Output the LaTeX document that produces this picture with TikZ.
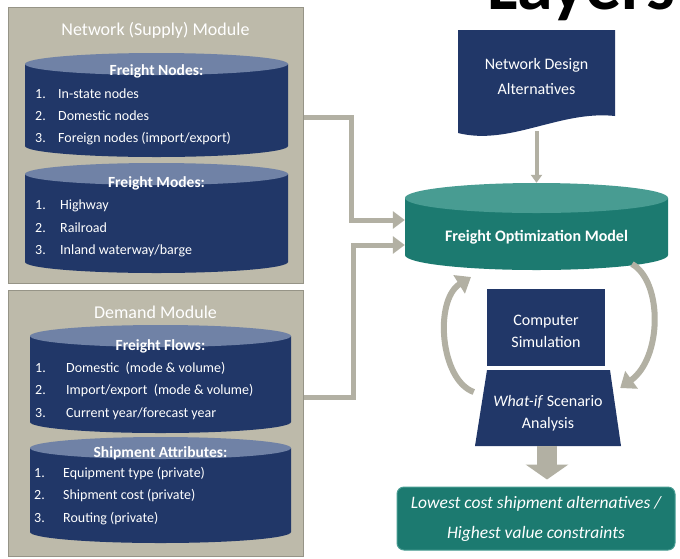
\documentclass[tikz,border=0pt]{standalone}
\usepackage{fontspec}
\setmainfont{Carlito}
\usetikzlibrary{arrows.meta}
\definecolor{navy}{RGB}{33,55,104}
\definecolor{navytop}{RGB}{112,130,166}
\definecolor{panelc}{RGB}{189,186,170}
\definecolor{panelb}{RGB}{150,148,135}
\definecolor{tealb}{RGB}{28,122,112}
\definecolor{tealt}{RGB}{72,156,146}
\definecolor{connc}{RGB}{178,176,163}
\definecolor{connd}{RGB}{150,148,137}
\newcommand\mycyl[7]{%
  \fill[#6] ({#1-#2},{#3+#5}) -- ({#1-#2},{#4-#5}) arc[start angle=180,end angle=360,x radius=#2pt,y radius=#5pt] -- ({#1+#2},{#3+#5}) -- cycle;
  \fill[#7] (#1,{#3+#5}) ellipse[x radius=#2pt,y radius=#5pt];}
\begin{document}
\begin{tikzpicture}[x=1pt,y=-1pt,
  panel/.style={draw=panelb, fill=panelc, line width=1pt, inner sep=0pt},
  ptitle/.style={text=white, font=\fontsize{18}{21}\selectfont, anchor=base, inner sep=0pt},
  chead/.style={text=white, font=\fontsize{15.5}{18}\selectfont\bfseries, anchor=base, inner sep=0pt},
  item/.style={text=white, font=\fontsize{14}{16}\selectfont, anchor=base west, inner sep=0pt},
  wtext/.style={text=white, font=\fontsize{16}{22}\selectfont, align=center, inner sep=0pt},
  conn/.style={draw=connc, line width=5pt, line join=miter, -{Triangle[width=17pt,length=12pt]}},
  curv/.style={draw=connc, line width=7pt, -{Triangle[width=21pt,length=14pt]}},
]
\useasboundingbox (0,0) rectangle (680,558);
\clip (0,0) rectangle (680,558);
\fill[white] (0,0) rectangle (680,558);

% title fragment
\node[anchor=base west, inner sep=0pt, font=\fontsize{72}{72}\selectfont\bfseries] (layers) at (487,9) {Layers};

% ---------- Network (Supply) Module ----------
\node[panel, minimum width=295pt, minimum height=276pt] (netpanel) at (155.5,145) {};
\node[ptitle] (nettitle) at (155.5,35) {Network (Supply) Module};
\mycyl{156.5}{131.5}{53}{157}{11}{navy}{navytop}
\node[chead] (fnh) at (156.5,75) {Freight Nodes:};
\node[item] (fn1n) at (35,98) {1.};  \node[item] (fn1) at (58,98) {In-state nodes};
\node[item] (fn2n) at (35,120) {2.}; \node[item] (fn2) at (58,120) {Domestic nodes};
\node[item] (fn3n) at (35,142) {3.}; \node[item] (fn3) at (58,142) {Foreign nodes (import/export)};
\mycyl{156.5}{131.5}{163}{273}{11}{navy}{navytop}
\node[chead] (fmh) at (156.5,187) {Freight Modes:};
\node[item] (fm1n) at (35,209) {1.};  \node[item] (fm1) at (60,209) {Highway};
\node[item] (fm2n) at (35,232) {2.};  \node[item] (fm2) at (60,232) {Railroad};
\node[item] (fm3n) at (35,254) {3.};  \node[item] (fm3) at (60,254) {Inland waterway/barge};

% ---------- Demand Module ----------
\node[panel, minimum width=295pt, minimum height=266pt] (dempanel) at (155.5,423) {};
\node[ptitle] (demtitle) at (155.5,318) {Demand Module};
\mycyl{160.5}{130.5}{325}{433}{11}{navy}{navytop}
\node[chead] (ffh) at (160.5,350) {Freight Flows:};
\node[item] (ff1n) at (35,372) {1.};  \node[item] (ff1) at (66,372) {Domestic \ (mode \& volume)};
\node[item] (ff2n) at (35,394) {2.};  \node[item] (ff2) at (66,394) {Import/export \ (mode \& volume)};
\node[item] (ff3n) at (35,417) {3.};  \node[item] (ff3) at (66,417) {Current year/forecast year};
\mycyl{160.5}{130.5}{437}{543}{11}{navy}{navytop}
\node[chead] (sah) at (160.5,457) {Shipment Attributes:};
\node[item] (sa1n) at (34,477) {1.};  \node[item] (sa1) at (63,477) {Equipment type (private)};
\node[item] (sa2n) at (34,499) {2.};  \node[item] (sa2) at (63,499) {Shipment cost (private)};
\node[item] (sa3n) at (34,522) {3.};  \node[item] (sa3) at (63,522) {Routing (private)};

% ---------- Network Design Alternatives (document) ----------
\fill[navy] (458,30) -- (615,30) -- (615,116) .. controls (560,110) and (510,146) .. (458,133) -- cycle;
\node[minimum width=157pt, minimum height=101pt, inner sep=0pt] (nda) at (536.5,80.5) {};
\node[wtext, font=\fontsize{16}{25}\selectfont] (ndat) at (536.5,76) {Network Design\\Alternatives};

% ---------- Freight Optimization Model ----------
\mycyl{536.5}{131.5}{183}{270}{15}{tealb}{tealt}
\node[minimum width=263pt, minimum height=87pt, inner sep=0pt] (fom) at (536.5,226.5) {};
\node[text=white, font=\fontsize{16}{18}\selectfont\bfseries, inner sep=0pt] (fomt) at (536.5,237) {Freight Optimization Model};

\draw[draw=connc, line width=4pt, -{Triangle[width=11pt,length=8pt]}] (nda.south) -- (fom.north);

% ---------- connectors from modules ----------
\draw[conn] (netpanel.east |- 0,117) -| (351,220) -- (fom.west |- 0,220);
\draw[conn] (dempanel.east |- 0,397) -| (353,245) -- (fom.west |- 0,245);

% ---------- Computer Simulation / What-if ----------
\node[fill=navy, minimum width=118pt, minimum height=77pt, inner sep=0pt] (cs) at (546,327.5) {};
\node[wtext] (cst) at (546,331) {Computer\\Simulation};
\fill[navy] (487,370) -- (610,370) -- (621,446) -- (475,446) -- cycle;
\node[minimum width=146pt, minimum height=76pt, inner sep=0pt] (wi) at (547,408) {};
\node[wtext] (wit) at (548,413) {\textit{What-if} Scenario\\Analysis};

% curved arrows
\draw[curv, line width=6pt] (wi.west |- 0,392) .. controls (440,380) and (434,300) .. (471,277);
\draw[curv, line width=6pt] (632,264) .. controls (663,282) and (662,358) .. (wi.east |- 0,388);

% ---------- output ----------
\node[fill=tealb, draw=tealt, line width=1pt, rounded corners=7pt, minimum width=278pt, minimum height=63pt, inner sep=0pt, text=white, align=center, font=\fontsize{17.5}{30}\selectfont\itshape] (out) at (536,518.5) {Lowest cost shipment alternatives /\\Highest value constraints};

\draw[draw=connc, line width=20pt, -{Triangle[width=42pt,length=15pt]}] (wi.south) -- ([yshift=7pt]wi.south |- out.north);
\end{tikzpicture}
\end{document}
